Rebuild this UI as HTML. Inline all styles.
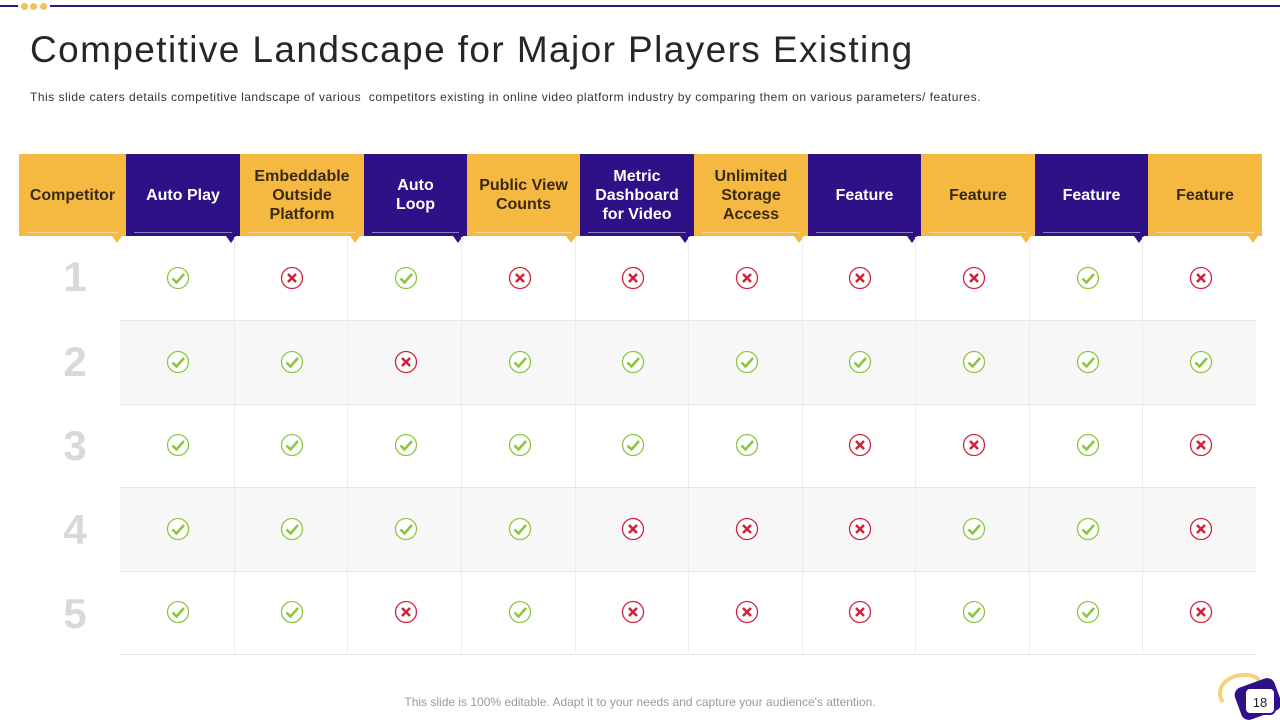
<!DOCTYPE html>
<html><head><meta charset="utf-8"><style>
*{margin:0;padding:0;box-sizing:border-box}
body{width:1280px;height:720px;position:relative;background:#fff;font-family:"Liberation Sans",sans-serif;overflow:hidden}
.topline{position:absolute;left:0;top:5px;width:1280px;height:2px;background:#2e1a78}
.dot{position:absolute;top:3px;width:7px;height:7px;border-radius:50%;background:#f0c35a}
h1{position:absolute;left:30px;top:29px;font-size:37px;font-weight:normal;color:#262626;letter-spacing:1.4px;white-space:nowrap}
.sub{position:absolute;left:30px;top:90px;font-size:12px;color:#333;white-space:nowrap;letter-spacing:0.5px}
.hd{position:absolute;top:154px;height:82px;display:flex;align-items:center;justify-content:center;text-align:center;font-weight:bold;font-size:16px;line-height:19px}
.y{background:#f5b942;color:#3a2a12}
.p{background:#2e1187;color:#fff}
.hd::before{content:"";position:absolute;left:8px;right:8px;bottom:3px;height:1px;background:rgba(255,255,255,.45)}
.hd::after{content:"";position:absolute;right:4px;bottom:-7px;border-left:5px solid transparent;border-right:5px solid transparent;border-top:7px solid}
.y::after{border-top-color:#f5b942}.p::after{border-top-color:#2e1187}
.row{position:absolute;left:120px;width:1136px;height:84px;border-bottom:1px solid #e6e6e6}
.row.g{background:#f7f7f7}
.num{position:absolute;left:40px;width:70px;text-align:center;font-size:42px;font-weight:bold;color:#d9d9d9}
.vl{position:absolute;top:237px;height:418px;width:1px;background:#ececec}
.foot{position:absolute;left:0;width:1280px;top:695px;text-align:center;font-size:12px;color:#999}
</style></head><body>
<div class="topline"></div>
<div style="position:absolute;left:18px;top:2px;width:32px;height:8px;background:#fff"></div>
<div class="dot" style="left:21px"></div><div class="dot" style="left:30px"></div><div class="dot" style="left:40px"></div>
<h1>Competitive Landscape for Major Players Existing</h1>
<div class="sub">This slide caters details competitive landscape of various &nbsp;competitors existing in online video platform industry by comparing them on various parameters/ features.</div>

<div class="hd y" style="left:19px;width:107px">Competitor</div>
<div class="hd p" style="left:126px;width:114px">Auto Play</div>
<div class="hd y" style="left:240px;width:124px">Embeddable<br>Outside<br>Platform</div>
<div class="hd p" style="left:364px;width:103px">Auto<br>Loop</div>
<div class="hd y" style="left:467px;width:113px">Public View<br>Counts</div>
<div class="hd p" style="left:580px;width:114px">Metric<br>Dashboard<br>for Video</div>
<div class="hd y" style="left:694px;width:114px">Unlimited<br>Storage<br>Access</div>
<div class="hd p" style="left:808px;width:113px">Feature</div>
<div class="hd y" style="left:921px;width:114px">Feature</div>
<div class="hd p" style="left:1035px;width:113px">Feature</div>
<div class="hd y" style="left:1148px;width:114px">Feature</div>

<div class="row" style="top:237px"></div>
<div class="row g" style="top:321px"></div>
<div class="row" style="top:404px"></div>
<div class="row g" style="top:488px"></div>
<div class="row" style="top:571px"></div>
<div class="num" style="top:253px">1</div>
<div class="num" style="top:338px">2</div>
<div class="num" style="top:422px">3</div>
<div class="num" style="top:506px">4</div>
<div class="num" style="top:590px">5</div>
<div class="vl" style="left:234px"></div><div class="vl" style="left:347px"></div><div class="vl" style="left:461px"></div><div class="vl" style="left:575px"></div><div class="vl" style="left:688px"></div><div class="vl" style="left:802px"></div><div class="vl" style="left:915px"></div><div class="vl" style="left:1029px"></div><div class="vl" style="left:1142px"></div>

<svg width="1280" height="720" style="position:absolute;left:0;top:0">
<defs>
<g id="ok"><circle r="10.5" fill="#fff" stroke="#8cc63f" stroke-width="1.3"/><path d="M-5.5 0.5 L-1.5 4.5 L6 -4" fill="none" stroke="#8cc63f" stroke-width="2.6"/></g>
<g id="no"><circle r="10.5" fill="#fff" stroke="#d0223b" stroke-width="1.3"/><path d="M-4 -4 L4 4 M4 -4 L-4 4" fill="none" stroke="#d0223b" stroke-width="2.6"/></g>
</defs>
<g transform="translate(0,278)">
<use href="#ok" x="178"/><use href="#no" x="292"/><use href="#ok" x="406"/><use href="#no" x="520"/><use href="#no" x="633"/><use href="#no" x="747"/><use href="#no" x="860"/><use href="#no" x="974"/><use href="#ok" x="1088"/><use href="#no" x="1201"/>
</g>
<g transform="translate(0,362)">
<use href="#ok" x="178"/><use href="#ok" x="292"/><use href="#no" x="406"/><use href="#ok" x="520"/><use href="#ok" x="633"/><use href="#ok" x="747"/><use href="#ok" x="860"/><use href="#ok" x="974"/><use href="#ok" x="1088"/><use href="#ok" x="1201"/>
</g>
<g transform="translate(0,445)">
<use href="#ok" x="178"/><use href="#ok" x="292"/><use href="#ok" x="406"/><use href="#ok" x="520"/><use href="#ok" x="633"/><use href="#ok" x="747"/><use href="#no" x="860"/><use href="#no" x="974"/><use href="#ok" x="1088"/><use href="#no" x="1201"/>
</g>
<g transform="translate(0,529)">
<use href="#ok" x="178"/><use href="#ok" x="292"/><use href="#ok" x="406"/><use href="#ok" x="520"/><use href="#no" x="633"/><use href="#no" x="747"/><use href="#no" x="860"/><use href="#ok" x="974"/><use href="#ok" x="1088"/><use href="#no" x="1201"/>
</g>
<g transform="translate(0,612)">
<use href="#ok" x="178"/><use href="#ok" x="292"/><use href="#no" x="406"/><use href="#ok" x="520"/><use href="#no" x="633"/><use href="#no" x="747"/><use href="#no" x="860"/><use href="#ok" x="974"/><use href="#ok" x="1088"/><use href="#no" x="1201"/>
</g>
<g transform="translate(1215,672)">
<path d="M8 30 C0 20 8 4 28 3 C40 2 46 8 44 12" fill="none" stroke="#f3d27a" stroke-width="4"/>
<rect x="22" y="10" width="42" height="34" rx="8" fill="#2e1187" transform="rotate(-20 43 27)"/>
<rect x="30" y="16" width="30" height="26" rx="5" fill="#fff" stroke="#2e1187" stroke-width="2"/>
<text x="45" y="35" font-size="13" text-anchor="middle" fill="#222" font-family="Liberation Sans">18</text>
</g>
</svg>
<div class="foot">This slide is 100% editable. Adapt it to your needs and capture your audience's attention.</div>
</body></html>
